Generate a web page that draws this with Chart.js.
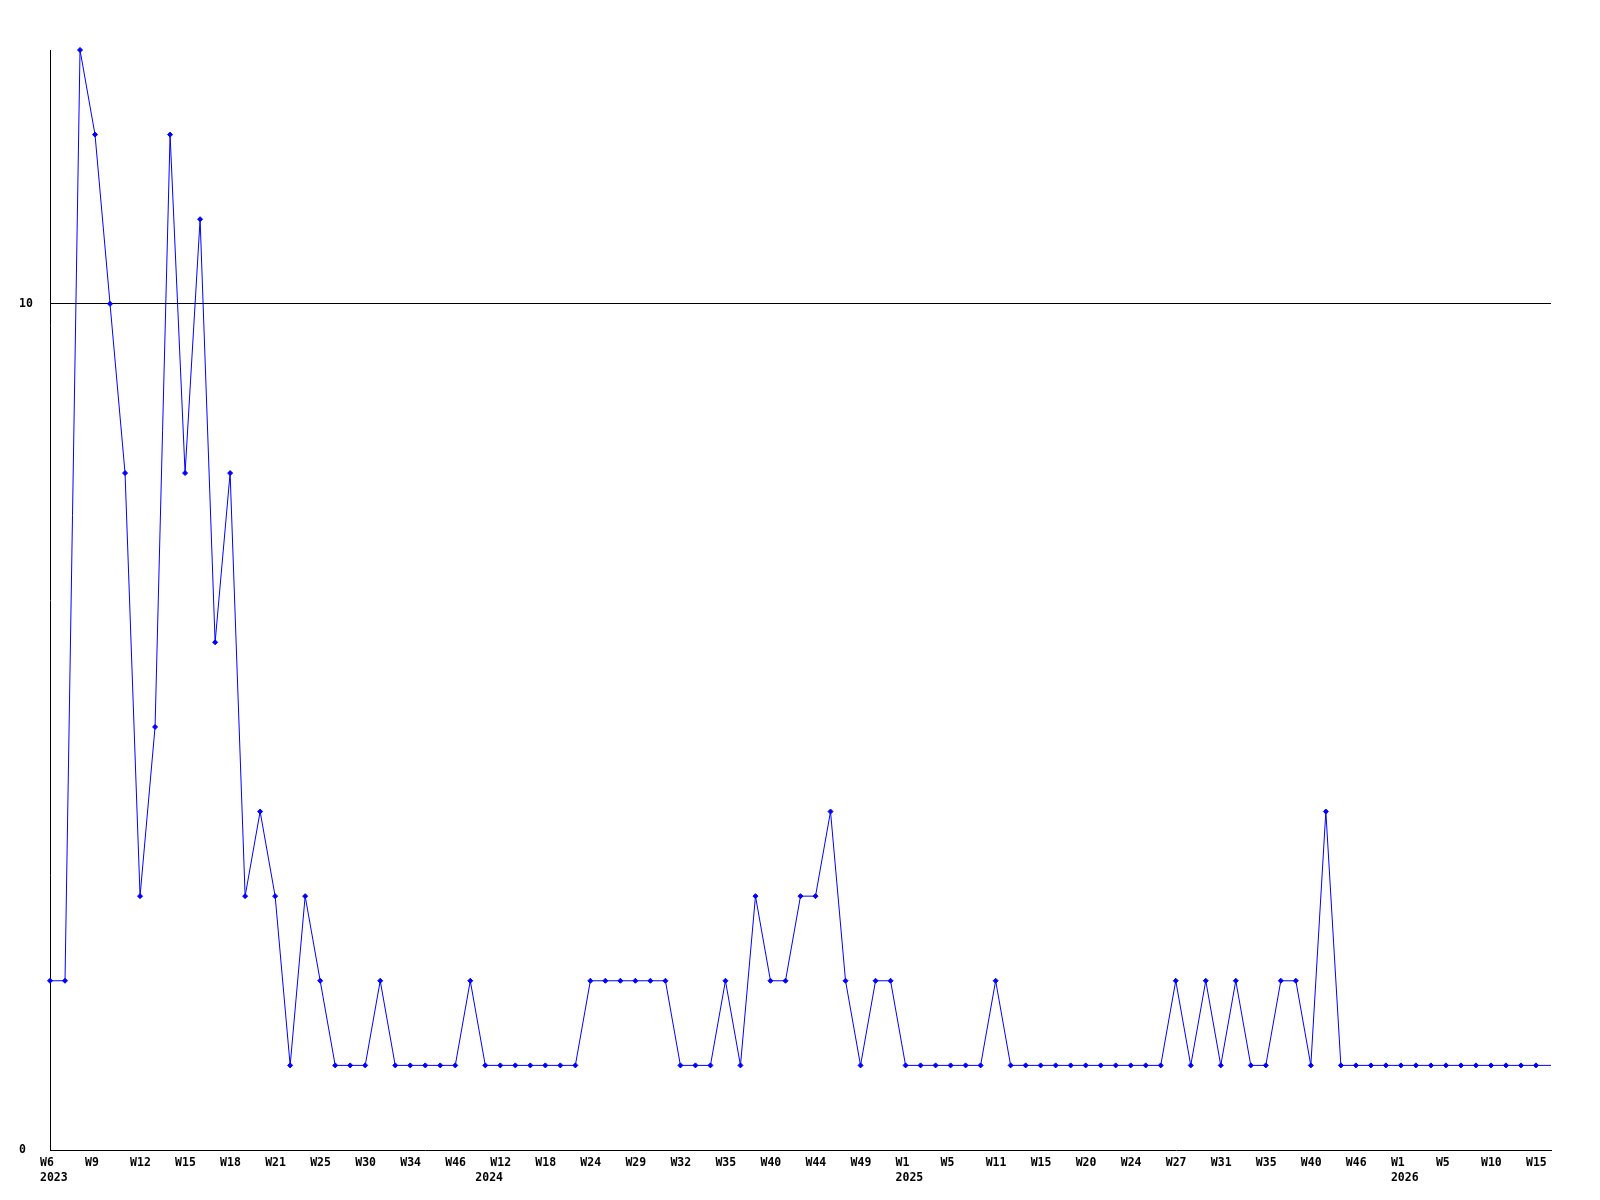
<!DOCTYPE html>
<html>
<head>
<meta charset="utf-8">
<script src="https://cdn.jsdelivr.net/npm/chart.js@4/dist/chart.umd.min.js"></script>
<style>
  html, body { margin: 0; padding: 0; background: #fff; }
  #wrap { width: 1600px; height: 1200px; }
</style>
</head>
<body>
<div id="wrap"><canvas id="chart"></canvas></div>
<script>
// one point per week (some weeks have no data, so the weeks are not contiguous)
const categories = [
  '2023-W6', '2023-W7', '2023-W8', '2023-W9', '2023-W10', '2023-W11', '2023-W12', '2023-W13', '2023-W14', '2023-W15',
  '2023-W16', '2023-W17', '2023-W18', '2023-W19', '2023-W20', '2023-W21', '2023-W22', '2023-W24', '2023-W25', '2023-W27',
  '2023-W28', '2023-W30', '2023-W31', '2023-W32', '2023-W34', '2023-W38', '2023-W42', '2023-W46', '2023-W50', '2024-W5',
  '2024-W12', '2024-W14', '2024-W16', '2024-W18', '2024-W20', '2024-W22', '2024-W24', '2024-W26', '2024-W27', '2024-W29',
  '2024-W30', '2024-W31', '2024-W32', '2024-W33', '2024-W34', '2024-W35', '2024-W37', '2024-W38', '2024-W40', '2024-W41',
  '2024-W42', '2024-W44', '2024-W46', '2024-W47', '2024-W49', '2024-W51', '2024-W52', '2025-W1', '2025-W2', '2025-W3',
  '2025-W5', '2025-W7', '2025-W9', '2025-W11', '2025-W13', '2025-W14', '2025-W15', '2025-W17', '2025-W18', '2025-W20',
  '2025-W21', '2025-W22', '2025-W24', '2025-W25', '2025-W26', '2025-W27', '2025-W28', '2025-W30', '2025-W31', '2025-W32',
  '2025-W33', '2025-W35', '2025-W37', '2025-W38', '2025-W40', '2025-W42', '2025-W44', '2025-W46', '2025-W48', '2025-W50',
  '2026-W1', '2026-W2', '2026-W3', '2026-W5', '2026-W7', '2026-W8', '2026-W10', '2026-W12', '2026-W13', '2026-W15',
  '2026-W16'
];

const counts = [
  2, 2, 13, 12, 10, 8, 3, 5, 12, 8,
  11, 6, 8, 3, 4, 3, 1, 3, 2, 1,
  1, 1, 2, 1, 1, 1, 1, 1, 2, 1,
  1, 1, 1, 1, 1, 1, 2, 2, 2, 2,
  2, 2, 1, 1, 1, 2, 1, 3, 2, 2,
  3, 3, 4, 2, 1, 2, 2, 1, 1, 1,
  1, 1, 1, 2, 1, 1, 1, 1, 1, 1,
  1, 1, 1, 1, 1, 2, 1, 2, 1, 2,
  1, 1, 2, 2, 1, 4, 1, 1, 1, 1,
  1, 1, 1, 1, 1, 1, 1, 1, 1, 1,
  1
];

const yTicks = [0, 10];
const labelEvery = 3;

const weekOf = c => c.split('-')[1];
const yearOf = c => c.split('-')[0];

const FONT = { family: "'DejaVu Sans Mono', monospace", size: 11.5, weight: 'bold', lineHeight: 15 / 11.5 };

new Chart(document.getElementById('chart'), {
  type: 'line',
  data: {
    labels: categories,
    datasets: [{
      data: counts,
      borderColor: '#0000ff',
      backgroundColor: '#0000ff',
      borderWidth: 1,
      tension: 0,
      fill: false,
      clip: false,
      pointStyle: 'rectRot',
      pointRadius: ctx => (ctx.dataIndex === counts.length - 1 ? 0 : 2.5),
      pointBorderWidth: 1,
      pointBorderColor: '#0000ff',
      pointBackgroundColor: '#0000ff'
    }]
  },
  options: {
    responsive: true,
    maintainAspectRatio: false,
    animation: false,
    layout: { padding: { left: 19, top: 50, right: 49, bottom: 0 } },
    plugins: { legend: { display: false }, tooltip: { enabled: false } },
    scales: {
      x: {
        offset: false,
        grid: { display: false },
        border: { display: true, color: '#000', width: 1 },
        afterFit: s => { s.height = 50; },
        ticks: {
          autoSkip: false,
          maxRotation: 0,
          minRotation: 0,
          align: 'start',
          labelOffset: -10,
          padding: -2,
          color: '#000',
          font: FONT,
          callback: (v, i) => {
            const c = categories[i];
            const first = i % labelEvery === 0 ? weekOf(c) : '';
            const newYear = i === 0 || yearOf(categories[i - 1]) !== yearOf(c);
            if (newYear) return [first, yearOf(c)];
            return first;
          }
        }
      },
      y: {
        min: 0,
        max: 13,
        afterFit: s => { s.width = 31; },
        border: { display: true, color: '#000', width: 1 },
        grid: {
          drawTicks: false,
          color: ctx => (ctx.tick && ctx.tick.value === 10 ? '#000' : 'rgba(0,0,0,0)'),
          lineWidth: 1
        },
        afterBuildTicks: s => { s.ticks = yTicks.map(v => ({ value: v })); },
        ticks: {
          crossAlign: 'far',
          color: '#000',
          font: FONT,
          callback: v => String(v)
        }
      }
    }
  }
});
</script>
</body>
</html>
